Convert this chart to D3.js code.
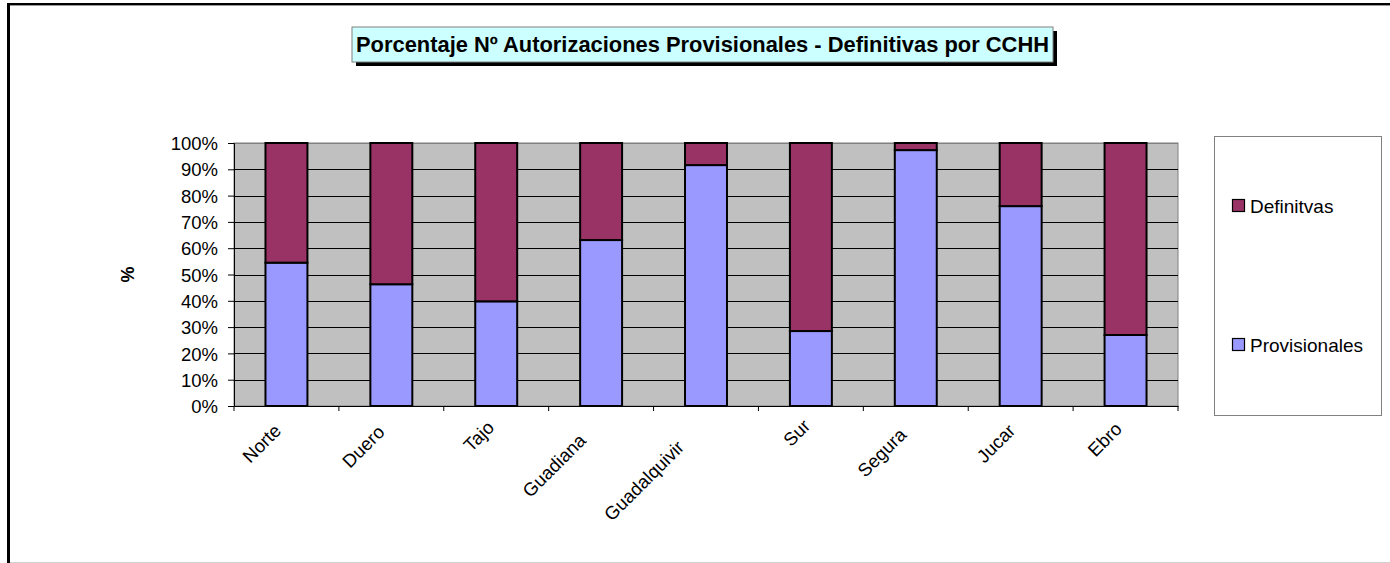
<!DOCTYPE html>
<html><head><meta charset="utf-8">
<script src="https://cdn.jsdelivr.net/npm/d3@7"></script>
<style>body{margin:0;background:#fff;} svg{display:block;font-family:"Liberation Sans",Arial,sans-serif;}</style>
</head><body><svg id="c" width="1390" height="563"></svg>
<script>
const categories = ["Norte","Duero","Tajo","Guadiana","Guadalquivir","Sur","Segura","Jucar","Ebro"];
const provisionales = [54.5, 46.3, 39.8, 63.1, 91.6, 28.5, 97.3, 76.0, 27.0];
const definitivas = categories.map((c,i)=>100-provisionales[i]);
const yTicks = [0,10,20,30,40,50,60,70,80,90,100];
const seriesNames = ["Provisionales","Definitvas"];
const colors = {"Provisionales":"#9999FF","Definitvas":"#993366"};
const titleText = "Porcentaje Nº Autorizaciones Provisionales - Definitivas por CCHH";

const svg = d3.select("#c");
// outer frame
svg.append("line").attr("x1",8.5).attr("y1",3).attr("x2",8.5).attr("y2",563).attr("stroke","#000").attr("stroke-width",3);
svg.append("line").attr("x1",7).attr("y1",4).attr("x2",1390).attr("y2",4).attr("stroke","#000").attr("stroke-width",2);
svg.append("line").attr("x1",10).attr("y1",5.5).attr("x2",1390).attr("y2",5.5).attr("stroke","#999").attr("stroke-width",1);
svg.append("line").attr("x1",10).attr("y1",562.5).attr("x2",1390).attr("y2",562.5).attr("stroke","#d0d0d0").attr("stroke-width",1);

const L=234,R=1178,T=143,B=406;
const x = d3.scaleBand().domain(categories).range([L,R]).paddingInner(0.6).paddingOuter(0.3);
const xb = d3.scaleBand().domain(categories).range([L,R]);
const y = d3.scaleLinear().domain([0,100]).range([B,T]);

// plot area
svg.append("rect").attr("x",L).attr("y",T).attr("width",R-L).attr("height",B-T).attr("fill","#C0C0C0").attr("stroke","#808080").attr("stroke-width",1);
// gridlines
svg.append("g").selectAll("line").data(yTicks.filter(d=>d>0)).join("line")
  .attr("x1",L).attr("x2",R).attr("y1",d=>Math.round(y(d))+0.5).attr("y2",d=>Math.round(y(d))+0.5)
  .attr("stroke", d=>d===100?"#808080":"#000").attr("stroke-width",1);

// stacked bars
const stackData = categories.map((c,i)=>({cat:c,Provisionales:provisionales[i],Definitvas:definitivas[i]}));
const stack = d3.stack().keys(seriesNames)(stackData);
svg.append("g").selectAll("g").data(stack).join("g").attr("fill",d=>colors[d.key])
  .selectAll("rect").data(d=>d).join("rect")
  .attr("x",d=>x(d.data.cat)).attr("width",x.bandwidth())
  .attr("y",d=>y(d[1])).attr("height",d=>y(d[0])-y(d[1]))
  .attr("stroke","#000").attr("stroke-width",2);

// y axis
const yAxis = svg.append("g").attr("transform",`translate(${L},0)`)
  .call(d3.axisLeft(y).tickValues(yTicks).tickFormat(d=>d+"%").tickSize(6).tickPadding(10));
yAxis.select(".domain").attr("stroke","#000");
yAxis.selectAll("text").attr("font-size",18.5).attr("fill","#000").attr("font-family","Liberation Sans, Arial, sans-serif").attr("dy","0.36em");

// x axis
const xAxis = svg.append("g").attr("transform",`translate(0,${B})`)
  .call(d3.axisBottom(xb).tickSize(0).tickFormat(""));
xAxis.select(".domain").attr("stroke","#000");
svg.append("g").selectAll("line").data(d3.range(categories.length+1)).join("line")
  .attr("x1",i=>L+i*xb.step()).attr("x2",i=>L+i*xb.step()).attr("y1",B).attr("y2",B+5).attr("stroke","#000");
svg.append("g").selectAll("text").data(categories).join("text")
  .attr("transform",d=>`translate(${xb(d)+xb.bandwidth()/2+4},${B+8.5}) rotate(-45)`)
  .attr("text-anchor","end").attr("font-size",18.5).attr("dy","0.35em").text(d=>d)
  .attr("x",function(){ return -0.4*this.getComputedTextLength(); });

// y title
svg.append("text").attr("transform",`translate(128,${(T+B)/2}) rotate(-90)`).attr("text-anchor","middle")
  .attr("font-size",18).attr("font-weight","bold").attr("dy","0.35em").text("%");

// title box
const tb = {x:352,y:27,w:701,h:35};
svg.append("rect").attr("x",tb.x+4).attr("y",tb.y+4).attr("width",tb.w).attr("height",tb.h).attr("fill","#000");
svg.append("rect").attr("x",tb.x).attr("y",tb.y).attr("width",tb.w).attr("height",tb.h).attr("fill","#CCFFFF").attr("stroke","#808080").attr("stroke-width",1);
svg.append("text").attr("x",tb.x+tb.w/2).attr("y",tb.y+tb.h/2).attr("dy","0.36em").attr("text-anchor","middle")
  .attr("font-size",21.5).attr("font-weight","bold").attr("textLength",693).attr("lengthAdjust","spacingAndGlyphs").text(titleText);

// legend
svg.append("rect").attr("x",1214.5).attr("y",136.5).attr("width",167).attr("height",279).attr("fill","#fff").attr("stroke","#808080");
const legItems = [{k:"Definitvas",y:206},{k:"Provisionales",y:345}];
const lg = svg.append("g").selectAll("g").data(legItems).join("g");
lg.append("rect").attr("x",1232.5).attr("y",d=>d.y-6.5).attr("width",12).attr("height",12).attr("fill",d=>colors[d.k]).attr("stroke","#000").attr("stroke-width",1.2);
lg.append("text").attr("x",1250).attr("y",d=>d.y).attr("dy","0.36em").attr("font-size",19).text(d=>d.k);
</script></body></html>
